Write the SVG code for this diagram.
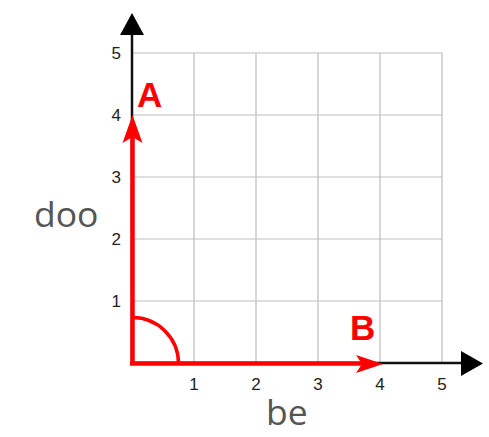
<svg xmlns="http://www.w3.org/2000/svg" width="489" height="437" viewBox="0 0 489 437">
<style>
.grid{stroke:#bdbdbd;stroke-width:1.2;fill:none}
.axis{stroke:#111;stroke-width:2.5;fill:none}
.tick{font-family:"Liberation Sans",Arial,sans-serif;font-size:17px;fill:#222}
.red{stroke:#ff0000;stroke-width:4.5;fill:none}
.lbl{font-family:"Liberation Sans",Arial,sans-serif;font-size:35px;font-weight:bold;fill:#ff0000}
.ax{font-family:"Open Sans","Liberation Sans",sans-serif;font-size:35.5px;fill:#555}
</style>
<rect width="489" height="437" fill="#ffffff"/>
<g id="grid">
<path class="grid" d="M194,53V363M256,53V363M318,53V363M380,53V363M442,53V363M132,53H442M132,115H442M132,177H442M132,239H442M132,301H442"/>
</g>
<g id="axes">
<path class="axis" d="M132,364V32M131,363H463"/>
<polygon points="120,35 144,35 132,13" fill="#000"/>
<polygon points="461,351 461,376 483,363.5" fill="#000"/>
</g>
<g id="ticks">
<text class="tick" x="194" y="390" text-anchor="middle">1</text>
<text class="tick" x="256" y="390" text-anchor="middle">2</text>
<text class="tick" x="318" y="390" text-anchor="middle">3</text>
<text class="tick" x="380" y="390" text-anchor="middle">4</text>
<text class="tick" x="442" y="390" text-anchor="middle">5</text>
<text class="tick" x="121" y="307" text-anchor="end">1</text>
<text class="tick" x="121" y="245" text-anchor="end">2</text>
<text class="tick" x="121" y="183" text-anchor="end">3</text>
<text class="tick" x="121" y="121" text-anchor="end">4</text>
<text class="tick" x="121" y="59" text-anchor="end">5</text>
</g>
<g id="connectors">
<path class="red" d="M132.5,363V132"/>
<path class="red" d="M130,363.5H370"/>
<polygon points="132.5,115 142.5,143 132.5,137 122.5,143" fill="#ff0000"/>
<polygon points="383,364 356,373 362,364 356,355" fill="#ff0000"/>
<path d="M132.5,317.5A46,46 0 0 1 178.5,363.5" stroke="#ff0000" stroke-width="3.5" fill="none"/>
</g>
<g id="node-A"><text class="lbl" x="137" y="107">A</text></g>
<g id="node-B"><text class="lbl" x="350" y="340">B</text></g>
<g id="label-doo"><text class="ax" x="34" y="227">doo</text></g>
<g id="label-be"><text class="ax" x="266" y="425">be</text></g>
</svg>
